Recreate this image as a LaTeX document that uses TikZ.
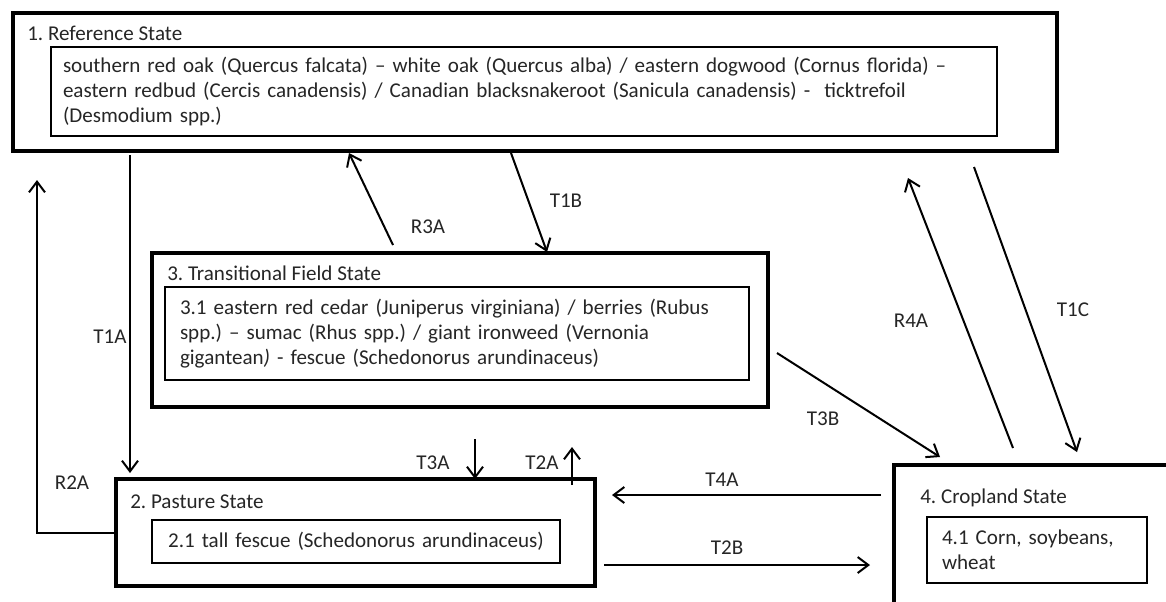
\documentclass[tikz,border=0pt]{standalone}
\usepackage{fontspec}
\setmainfont{Carlito}
\usetikzlibrary{arrows.meta,calc}
\frenchspacing

\begin{document}
\begin{tikzpicture}[x=0.75pt,y=-0.75pt,
  font=\fontsize{15.8}{18.75}\selectfont,
  every node/.style={text=black!85},
  statebox/.style={draw,line width=2.5pt,anchor=north west,inner sep=0pt,outer sep=0pt},
  phasebox/.style={draw,line width=1.6pt,anchor=north west,inner ysep=0pt,outer sep=0pt,align=left},
  statetitle/.style={anchor=west,inner sep=0pt},
  lbl/.style={inner sep=0pt},
  trans/.style={line width=1.5pt,-{Straight Barb[length=8pt,width=12pt]}}]
  \useasboundingbox (0,0) rectangle (1166,601);
  \fill[white] (0,0) rectangle (1166,601);
  \clip (0,0) rectangle (1166,601);

  \node[statebox,minimum width=783pt,minimum height=103.5pt] (s1) at (13,13) {};
  \node[statetitle] (s1t) at (27,33) {1. Reference State};
  \node[phasebox,minimum width=709.5pt,minimum height=66.75pt,text width=691.5pt,inner xsep=9pt] (s1p) at (51,47)
  {southern red oak (Quercus falcata) -- white oak (Quercus alba) / eastern dogwood (Cornus florida) --\\
   eastern redbud (Cercis canadensis) / Canadian blacksnakeroot (Sanicula canadensis) -\ \ ticktrefoil\\
   (Desmodium spp.)};

  \node[statebox,minimum width=462pt,minimum height=115.5pt] (s3) at (152,253) {};
  \node[statetitle] (s3t) at (167,273) {3. Transitional Field State};
  \node[phasebox,minimum width=438pt,minimum height=69.75pt,text width=415.5pt,inner xsep=11.25pt] (s3p) at (165,287)
  {3.1 eastern red cedar (Juniperus virginiana) / berries (Rubus\\
   spp.) -- sumac (Rhus spp.) / giant ironweed (Vernonia\\
   gigantean\textit{)} - fescue (Schedonorus arundinaceus)};

  \node[statebox,minimum width=359.25pt,minimum height=80.25pt] (s2) at (116,479) {};
  \node[statetitle] (s2t) at (130,502) {2. Pasture State};
  \node[phasebox,minimum width=306pt,minimum height=32.25pt,text width=288pt,inner xsep=9pt,align=center] (s2p) at (152,520)
  {2.1 tall fescue (Schedonorus arundinaceus)};

  \node[statebox,minimum width=240pt,minimum height=127.5pt] (s4) at (894,465) {};
  \node[statetitle] (s4t) at (920,498) {4. Cropland State};
  \node[phasebox,minimum width=165pt,minimum height=49.5pt,text width=142.5pt,inner xsep=11.25pt] (s4p) at (927,517)
  {4.1 Corn, soybeans,\\ wheat};

  \draw[trans] ($(s1.south west)+(117,4)$) -- ($(s2.north west)+(14,-6)$);
  \draw[trans] ($(s2.south west)+(0,-53)$) -| ($(s1.south west)+(24,29)$);
  \draw[trans] ($(s3.north west)+(241,-8)$) -- ($(s1.south west)+(336,2)$);
  \draw[trans] ($(s1.south west)+(498,2)$) -- ($(s3.north west)+(395,-1)$);
  \draw[trans] ($(s3.south west)+(323,32)$) -- ($(s2.north west)+(359,0)$);
  \draw[trans] ($(s2.north east)+(-23,6)$) -- ($(s2.north east)+(-23,-32)$);
  \draw[trans] ($(s3.north east)+(9,100)$) -- ($(s4.north west)+(46,-8)$);
  \draw[trans] ($(s4.north west)+(119,-17)$) -- ($(s1.south east)+(-149,27)$);
  \draw[trans] ($(s1.south east)+(-83,16)$) -- ($(s4.north west)+(183,-13)$);
  \draw[trans] ($(s4.north west)+(-13,30)$) -- ($(s2.north east)+(17,16)$);
  \draw[trans] ($(s2.south east)+(9,-21)$) -- ($(s4.north west)+(-24,100)$);

  \node[lbl] (lt1a) at (110,337) {T1A};
  \node[lbl] (lr2a) at (72,483) {R2A};
  \node[lbl] (lr3a) at (428,227) {R3A};
  \node[lbl] (lt1b) at (566,201) {T1B};
  \node[lbl] (lt3a) at (433,463) {T3A};
  \node[lbl] (lt2a) at (542,463) {T2A};
  \node[lbl] (lt3b) at (823,419) {T3B};
  \node[lbl] (lr4a) at (911,321) {R4A};
  \node[lbl] (lt1c) at (1073,310) {T1C};
  \node[lbl] (lt4a) at (722,480) {T4A};
  \node[lbl] (lt2b) at (727,548) {T2B};
\end{tikzpicture}
\end{document}
